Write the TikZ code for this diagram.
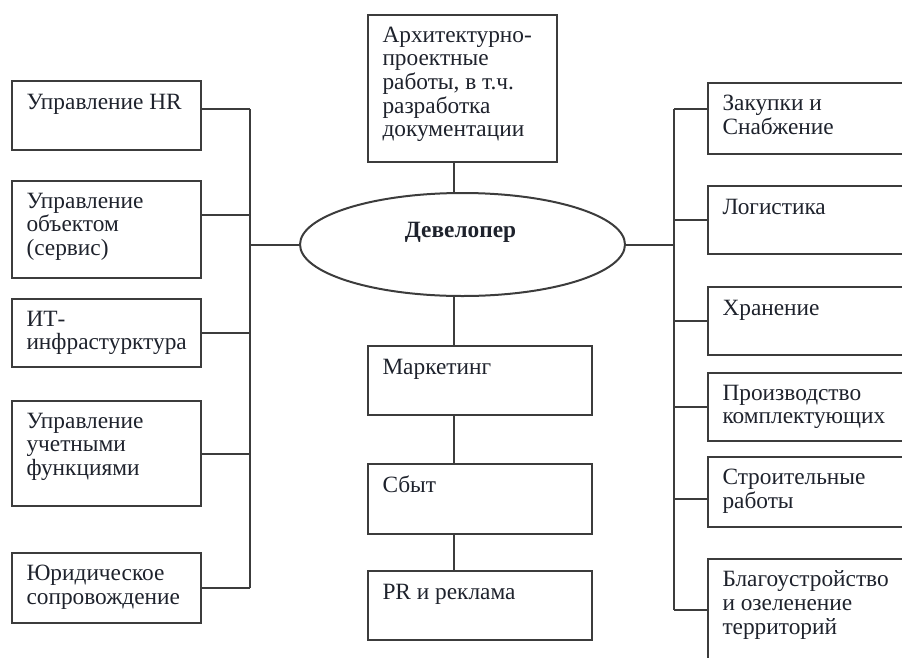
\documentclass[tikz,border=0pt]{standalone}
\usepackage{fontspec}
\setmainfont{Liberation Serif}
\usetikzlibrary{shapes.geometric,calc,fit}

\tikzset{every picture/.style={line width=0.75pt}}
\tikzset{
	box/.style={draw={rgb, 255:red, 60; green, 60; blue, 60}, line width=1.5pt, inner sep=0pt},
	link/.style={draw={rgb, 255:red, 60; green, 60; blue, 60}, line width=1.5pt},
	txt/.style={inner sep=0pt, align=left, anchor=north west, text={rgb, 255:red, 30; green, 34; blue, 44},
		font=\fontsize{17.5}{17.75}\selectfont, execute at begin node=\strut},
}

\begin{document}
\begin{tikzpicture}[x=0.75pt,y=0.75pt,yscale=-1,xscale=1]
	\useasboundingbox (0,0) rectangle (902,657);
	\clip (0,0) rectangle (902,657);

	%Shape: Ellipse [id:dev]
	\node[box, ellipse, minimum width=243.75pt, minimum height=77.25pt] (dev) at (462.5,244.5) {};
	% Text Node
	\node[inner sep=0pt, anchor=base, text={rgb, 255:red, 30; green, 34; blue, 44}, font=\fontsize{17.5}{17.75}\selectfont\bfseries] (devt) at ($(dev.center)+(-2,-7.5)$) {Девелопер};

	%Shape: Rectangle [id:arch]
	\node[box, fit={(368,15) (557,162)}] (arch) {};
	%Shape: Rectangle [id:mkt]
	\node[box, fit={(368,346) (592,415)}] (mkt) {};
	%Shape: Rectangle [id:sales]
	\node[box, fit={(368,464) (592,534)}] (sales) {};
	%Shape: Rectangle [id:pr]
	\node[box, fit={(368,571) (592,640)}] (pr) {};

	%Shape: Rectangle [id:hr]
	\node[box, fit={(12,81) (201,150)}] (hr) {};
	%Shape: Rectangle [id:obj]
	\node[box, fit={(12,181) (201,278)}] (obj) {};
	%Shape: Rectangle [id:it]
	\node[box, fit={(12,299) (201,367)}] (it) {};
	%Shape: Rectangle [id:acc]
	\node[box, fit={(12,401) (201,506)}] (acc) {};
	%Shape: Rectangle [id:law]
	\node[box, fit={(12,553) (201,623)}] (law) {};

	%Shape: Rectangle [id:buy]
	\node[box, fit={(708,83) (930,154)}] (buy) {};
	%Shape: Rectangle [id:log]
	\node[box, fit={(708,186) (930,254)}] (log) {};
	%Shape: Rectangle [id:store]
	\node[box, fit={(708,287) (930,355)}] (store) {};
	%Shape: Rectangle [id:prod]
	\node[box, fit={(708,373) (930,441)}] (prod) {};
	%Shape: Rectangle [id:build]
	\node[box, fit={(708,457) (930,527)}] (build) {};
	%Shape: Rectangle [id:land]
	\node[box, fit={(708,559) (930,690)}] (land) {};

	% Text Node
	\node[txt] (archt) at ($(arch.north west)+(15,12.4)$) {Архитектурно-\\проектные\\работы, в т.ч.\\разработка\\документации};
	% Text Node
	\node[txt] (mktt) at ($(mkt.north west)+(15,12.4)$) {Маркетинг};
	% Text Node
	\node[txt] (salest) at ($(sales.north west)+(15,12.4)$) {Сбыт};
	% Text Node
	\node[txt] (prt) at ($(pr.north west)+(15,12.4)$) {PR и реклама};
	% Text Node
	\node[txt] (hrt) at ($(hr.north west)+(15,12.4)$) {Управление HR};
	% Text Node
	\node[txt] (objt) at ($(obj.north west)+(15,12.4)$) {Управление\\объектом\\(сервис)};
	% Text Node
	\node[txt] (itt) at ($(it.north west)+(15,12.4)$) {ИТ-\\инфрастурктура};
	% Text Node
	\node[txt] (acct) at ($(acc.north west)+(15,12.4)$) {Управление\\учетными\\функциями};
	% Text Node
	\node[txt] (lawt) at ($(law.north west)+(15,12.4)$) {Юридическое\\сопровождение};
	% Text Node
	\node[txt] (buyt) at ($(buy.north west)+(15,12.4)$) {Закупки и\\Снабжение};
	% Text Node
	\node[txt] (logt) at ($(log.north west)+(15,12.4)$) {Логистика};
	% Text Node
	\node[txt] (storet) at ($(store.north west)+(15,12.4)$) {Хранение};
	% Text Node
	\node[txt] (prodt) at ($(prod.north west)+(15,12.4)$) {Производство\\комплектующих};
	% Text Node
	\node[txt] (buildt) at ($(build.north west)+(15,12.4)$) {Строительные\\работы};
	% Text Node
	\node[txt] (landt) at ($(land.north west)+(15,12.4)$) {Благоустройство\\и озеленение\\территорий};

	% bus lines
	\coordinate (lbus) at (250,0);
	\coordinate (rbus) at (674,0);
	\coordinate (spine) at (454,0);
	\coordinate (hrc) at ($(hr.east)+(0,-6.5)$);
	\coordinate (objc) at ($(obj.east)+(0,-14.5)$);
	\coordinate (buyc) at ($(buy.west)+(0,-9.5)$);
	\coordinate (buildc) at ($(build.west)+(0,7)$);
	\coordinate (landc) at ($(land.west)+(0,-14.5)$);

	%Straight Lines [id:left]
	\draw[link] (lbus |- hrc) -- (lbus |- law.east);
	\draw[link] (hrc) -- (hrc -| lbus);
	\draw[link] (objc) -- (objc -| lbus);
	\draw[link] (it.east) -- (it.east -| lbus);
	\draw[link] (acc.east) -- (acc.east -| lbus);
	\draw[link] (law.east) -- (law.east -| lbus);
	\draw[link] (dev.west) -- (dev.west -| lbus);

	%Straight Lines [id:right]
	\draw[link] (rbus |- buyc) -- (rbus |- landc);
	\draw[link] (buyc) -- (buyc -| rbus);
	\draw[link] (log.west) -- (log.west -| rbus);
	\draw[link] (store.west) -- (store.west -| rbus);
	\draw[link] (prod.west) -- (prod.west -| rbus);
	\draw[link] (buildc) -- (buildc -| rbus);
	\draw[link] (landc) -- (landc -| rbus);
	\draw[link] (dev.east) -- (dev.east -| rbus);

	%Straight Lines [id:middle]
	\draw[link] (spine |- arch.south) -- (spine |- dev.north);
	\draw[link] (spine |- dev.south) -- (spine |- mkt.north);
	\draw[link] (spine |- mkt.south) -- (spine |- sales.north);
	\draw[link] (spine |- sales.south) -- (spine |- pr.north);

\end{tikzpicture}
\end{document}
